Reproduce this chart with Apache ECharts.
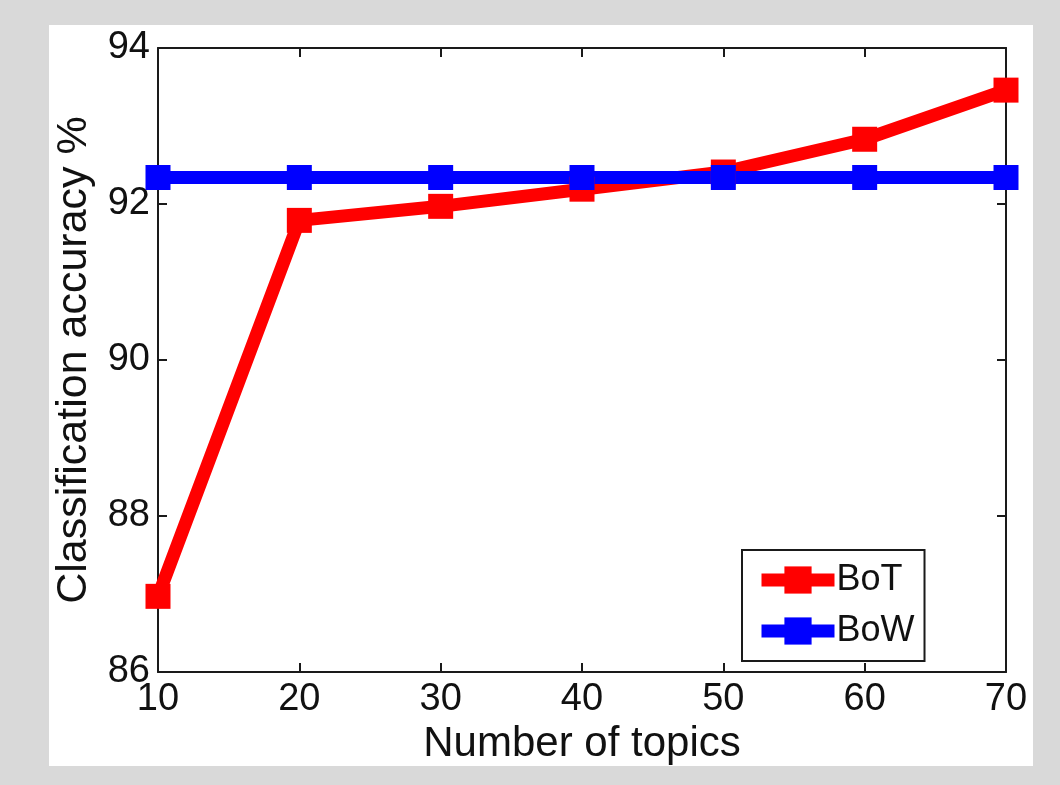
<!DOCTYPE html>
<html>
<head>
<meta charset="utf-8">
<script src="https://cdn.jsdelivr.net/npm/echarts@6/dist/echarts.min.js"></script>
<style>
  html, body { margin: 0; padding: 0; background: #d9d9d9; }
  #panel { position: absolute; left: 49px; top: 25px; width: 984px; height: 741px; background: #fff; }
  #chart { position: absolute; left: 0; top: 0; width: 1060px; height: 785px; }
</style>
</head>
<body>
<div id="panel"></div>
<div id="chart"></div>
<script>
  // topic counts on the x axis
  var topics = [10, 20, 30, 40, 50, 60, 70];
  // classification accuracy (%)
  var botAcc = [86.97, 91.79, 91.97, 92.19, 92.41, 92.83, 93.46];
  var bowAcc = [92.34, 92.34, 92.34, 92.34, 92.34, 92.34, 92.34];

  var chart = echarts.init(document.getElementById('chart'));
  var font = 'Liberation Sans, Arial, sans-serif';
  var axisColor = '#1a1a1a';

  function pairs(xs, ys) {
    return xs.map(function (x, i) { return [x, ys[i]]; });
  }

  var frame = {
    axisLine: { show: true, onZero: false, lineStyle: { color: axisColor, width: 2 } },
    axisTick: { show: true, inside: true, length: 9, lineStyle: { color: axisColor, width: 2 } },
    splitLine: { show: false }
  };

  var option = {
    animation: false,
    textStyle: { fontFamily: font },
    grid: { left: 158, right: 54, top: 48, bottom: 113 },
    xAxis: [
      Object.assign({
        type: 'value', min: 10, max: 70, interval: 10,
        name: 'Number of topics', nameLocation: 'middle', nameGap: 46,
        nameTextStyle: { fontSize: 42, color: '#111', fontFamily: font },
        axisLabel: { fontSize: 38, color: '#111', margin: 9, fontFamily: font }
      }, frame),
      Object.assign({
        type: 'value', min: 10, max: 70, interval: 10, position: 'top',
        axisLabel: { show: false }
      }, frame)
    ],
    yAxis: [
      Object.assign({
        type: 'value', min: 86, max: 94, interval: 2,
        name: 'Classification accuracy %', nameLocation: 'middle', nameGap: 62,
        nameTextStyle: { fontSize: 43, color: '#111', fontFamily: font },
        axisLabel: { fontSize: 38, color: '#111', margin: 8, fontFamily: font }
      }, frame),
      Object.assign({
        type: 'value', min: 86, max: 94, interval: 2, position: 'right',
        axisLabel: { show: false }
      }, frame)
    ],
    legend: {
      left: 742, top: 550, orient: 'vertical',
      padding: [12, 10, 12, 13],
      itemWidth: 73, itemHeight: 34, itemGap: 15,
      borderColor: axisColor, borderWidth: 2,
      backgroundColor: '#fff',
      lineStyle: { width: 13 },
      textStyle: { fontSize: 36, color: '#111', fontFamily: font, padding: [0, 0, 0, -3] },
      data: ['BoT', 'BoW']
    },
    series: [
      {
        name: 'BoT', type: 'line', data: pairs(topics, botAcc),
        symbol: 'rect', symbolSize: 25, clip: false,
        lineStyle: { color: '#ff0000', width: 13 },
        itemStyle: { color: '#ff0000' }
      },
      {
        name: 'BoW', type: 'line', data: pairs(topics, bowAcc),
        symbol: 'rect', symbolSize: 25, clip: false,
        lineStyle: { color: '#0000ff', width: 13 },
        itemStyle: { color: '#0000ff' }
      }
    ]
  };
  chart.setOption(option);
</script>
</body>
</html>
